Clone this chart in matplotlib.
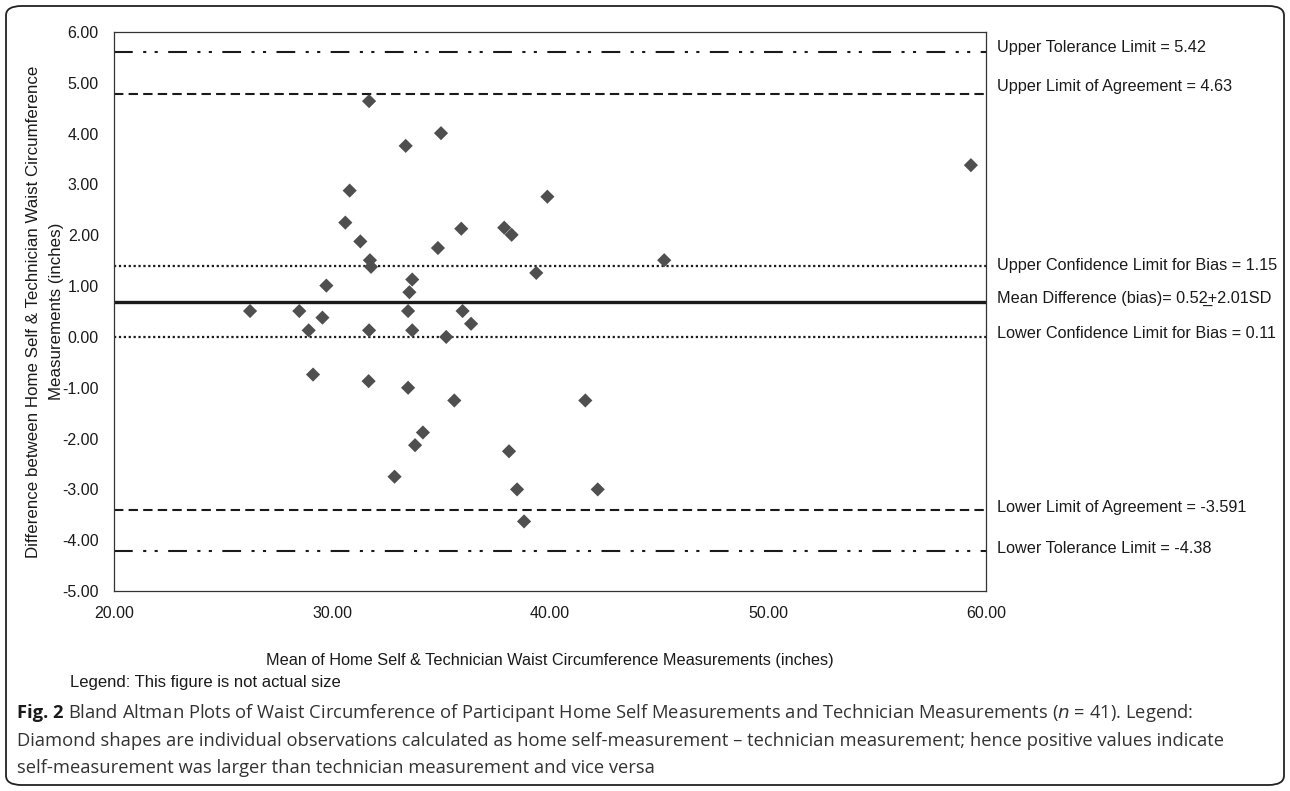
import numpy as np
import matplotlib.pyplot as plt
from matplotlib.patches import FancyBboxPatch

# mean of the two measurements (inches) and their difference
mean_vals = [31.70, 35.00, 33.38, 30.81, 39.88, 30.61, 35.93, 37.90, 38.24, 31.30,
             34.86, 31.74, 31.79, 39.37, 33.68, 29.74, 33.55, 26.24, 28.50, 33.49,
             35.99, 29.56, 36.38, 28.93, 31.70, 33.68, 35.24, 29.13, 31.68, 33.49,
             35.61, 41.62, 34.17, 33.81, 38.12, 32.87, 38.49, 42.19, 38.81, 59.31,
             45.24]
diff_vals = [4.64, 4.01, 3.76, 2.88, 2.76, 2.25, 2.13, 2.15, 2.01, 1.88,
             1.75, 1.51, 1.38, 1.26, 1.13, 1.01, 0.88, 0.51, 0.51, 0.51,
             0.51, 0.38, 0.26, 0.13, 0.13, 0.13, 0.00, -0.74, -0.87, -1.00,
             -1.25, -1.25, -1.88, -2.13, -2.25, -2.75, -3.00, -3.00, -3.63, 3.38,
             1.51]

# reference lines as drawn, with their labels
line_levels = [5.60, 4.79, 1.40, 0.68, 0.00, -3.40, -4.22]
line_labels = ['Upper Tolerance Limit = 5.42',
               'Upper Limit of Agreement = 4.63',
               'Upper Confidence Limit for Bias = 1.15',
               'Mean Difference (bias)= 0.52\u0332+2.01SD',
               'Lower Confidence Limit for Bias = 0.11',
               'Lower Limit of Agreement = -3.591',
               'Lower Tolerance Limit = -4.38']
label_levels = [5.70, 4.93, 1.40, 0.75, 0.07, -3.35, -4.16]

x_ticks = [20, 30, 40, 50, 60]
y_ticks = [-5, -4, -3, -2, -1, 0, 1, 2, 3, 4, 5, 6]

plt.rcParams['font.family'] = ['Liberation Sans', 'DejaVu Sans']

fig = plt.figure(figsize=(12.9, 7.91), dpi=100)
ax = fig.add_axes([0.0884, 0.2528, 0.6759, 0.7067])

dashdotdot = (0, (9, 5, 1.5, 4, 1.5, 5))
styles = [
    dict(color='#1a1a1a', lw=1.5, linestyle=dashdotdot),
    dict(color='#1a1a1a', lw=1.5, linestyle=(0, (4.5, 2.5))),
    dict(color='#1a1a1a', lw=1.6, linestyle=(0, (1, 1.2))),
    dict(color='#1a1a1a', lw=2.4, linestyle='-'),
    dict(color='#1a1a1a', lw=1.6, linestyle=(0, (1, 1.2))),
    dict(color='#1a1a1a', lw=1.5, linestyle=(0, (4.5, 2.5))),
    dict(color='#1a1a1a', lw=1.5, linestyle=dashdotdot),
]
for lvl, st in zip(line_levels, styles):
    ax.axhline(lvl, zorder=1, **st)

ax.scatter(mean_vals, diff_vals, marker='D', s=52, color='#4f4f4f',
           edgecolors='none', zorder=3)

for lvl, lab in zip(label_levels, line_labels):
    ax.text(1.013, lvl, lab, transform=ax.get_yaxis_transform(),
            fontsize=11.7, va='center', ha='left', color='#1a1a1a')

ax.set_xlim(20, 60)
ax.set_ylim(-5, 6)
ax.set_xticks(x_ticks)
ax.set_xticklabels([f'{v:.2f}' for v in x_ticks])
ax.set_yticks(y_ticks)
ax.set_yticklabels([f'{v:.2f}' for v in y_ticks])
ax.tick_params(length=0, labelsize=11.5, colors='#1a1a1a', pad=11)
for sp in ax.spines.values():
    sp.set_linewidth(0.9)
    sp.set_color('#333333')

ax.set_xlabel('Mean of Home Self & Technician Waist Circumference Measurements (inches)',
              fontsize=11.7, labelpad=23, color='#1a1a1a')
ax.set_ylabel('Difference between Home Self & Technician Waist Circumference\nMeasurements (inches)',
              fontsize=12.2, labelpad=-1, linespacing=1.6, color='#1a1a1a')

fig.text(70 / 1290, 1 - 683 / 791, 'Legend: This figure is not actual size',
         fontsize=12, va='center', ha='left', color='#1a1a1a')

cap_font = ['Open Sans', 'DejaVu Sans']
y0 = 1 - 713 / 791
fig.text(17 / 1290, y0, 'Fig. 2', fontsize=13.2, fontweight='bold', family=cap_font,
         va='center', ha='left', color='#1a1a1a')
fig.text(68 / 1290, y0,
         'Bland Altman Plots of Waist Circumference of Participant Home Self Measurements '
         'and Technician Measurements ($n$ = 41). Legend:',
         fontsize=13.2, family=cap_font, va='center', ha='left', color='#333333')
fig.text(17 / 1290, 1 - 741 / 791,
         'Diamond shapes are individual observations calculated as home self-measurement \u2013 '
         'technician measurement; hence positive values indicate',
         fontsize=13.2, family=cap_font, va='center', ha='left', color='#333333')
fig.text(17 / 1290, 1 - 768 / 791,
         'self-measurement was larger than technician measurement and vice versa',
         fontsize=13.2, family=cap_font, va='center', ha='left', color='#333333')

border = FancyBboxPatch((6 / 1290, 6 / 791), 1 - 12 / 1290, 1 - 12 / 791,
                        boxstyle='round,pad=0,rounding_size=0.012',
                        transform=fig.transFigure, fill=False,
                        edgecolor='#222222', linewidth=1.3)
fig.patches.append(border)

fig.savefig('out.png', dpi=100)
